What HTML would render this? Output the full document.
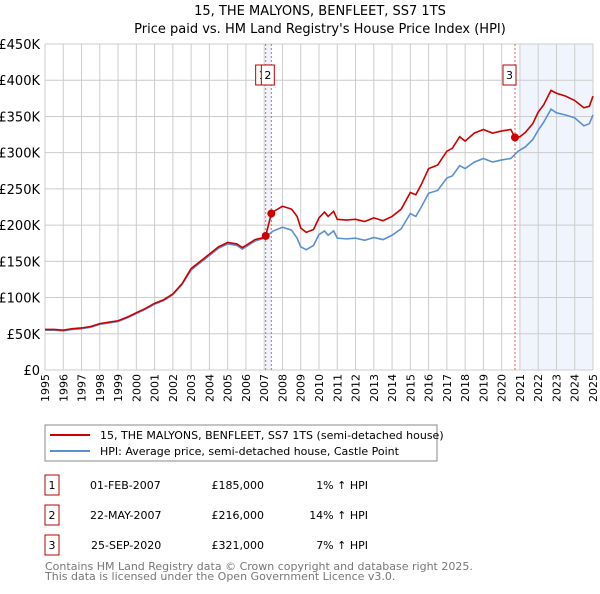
<!DOCTYPE html>
<html><head><meta charset="utf-8">
<style>
body{margin:0;background:#fff;font-family:"DejaVu Sans","Liberation Sans",sans-serif;}
svg text{font-family:"DejaVu Sans","Liberation Sans",sans-serif;}
</style></head>
<body>
<svg id="c" width="600" height="590" xmlns="http://www.w3.org/2000/svg">
<text x="320" y="15" font-size="13" text-anchor="middle">15, THE MALYONS, BENFLEET, SS7 1TS</text>
<text x="320" y="33" font-size="13" text-anchor="middle">Price paid vs. HM Land Registry's House Price Index (HPI)</text>
<g id="grid"></g><g id="series"></g>
<rect x="45" y="425" width="392" height="36" fill="#fff" stroke="#888"/>
<line x1="50" y1="435" x2="90" y2="435" stroke="#cc0000" stroke-width="2"/>
<text x="100" y="439" font-size="11">15, THE MALYONS, BENFLEET, SS7 1TS (semi-detached house)</text>
<line x1="50" y1="451" x2="90" y2="451" stroke="#5b8fd4" stroke-width="2"/>
<text x="100" y="455" font-size="11">HPI: Average price, semi-detached house, Castle Point</text>
<g font-size="11">
<rect x="45" y="475" width="14" height="20" fill="#fff" stroke="#b00"/><text x="52" y="489" text-anchor="middle">1</text>
<text x="90" y="489">01-FEB-2007</text><text x="264" y="489" text-anchor="end">£185,000</text><text x="368" y="489" text-anchor="end">1% ↑ HPI</text>
<rect x="45" y="505" width="14" height="20" fill="#fff" stroke="#b00"/><text x="52" y="519" text-anchor="middle">2</text>
<text x="90" y="519">22-MAY-2007</text><text x="264" y="519" text-anchor="end">£216,000</text><text x="368" y="519" text-anchor="end">14% ↑ HPI</text>
<rect x="45" y="535" width="14" height="20" fill="#fff" stroke="#b00"/><text x="52" y="549" text-anchor="middle">3</text>
<text x="91" y="549">25-SEP-2020</text><text x="264" y="549" text-anchor="end">£321,000</text><text x="368" y="549" text-anchor="end">7% ↑ HPI</text>
</g>
<text x="45" y="570" font-size="11" fill="#777">Contains HM Land Registry data © Crown copyright and database right 2025.</text>
<text x="45" y="580" font-size="11" fill="#777">This data is licensed under the Open Government Licence v3.0.</text>
</svg>
<script>
const hpiDates=[1995,1995.5,1996,1996.5,1997,1997.5,1998,1998.5,1999,1999.5,2000,2000.5,2001,2001.5,2002,2002.5,2003,2003.5,2004,2004.5,2005,2005.5,2005.8,2006,2006.5,2007,2007.5,2008,2008.5,2008.8,2009,2009.3,2009.7,2010,2010.3,2010.5,2010.8,2011,2011.5,2012,2012.5,2013,2013.5,2014,2014.5,2015,2015.3,2015.6,2016,2016.5,2017,2017.3,2017.7,2018,2018.5,2019,2019.5,2020,2020.5,2020.9,2021.3,2021.7,2022,2022.3,2022.7,2023,2023.5,2024,2024.5,2024.8,2025];
const hpiValues=[55,55,54,56,57,59,63,65,67,72,78,84,91,96,104,118,138,148,158,168,174,172,167,170,178,182,192,197,193,182,170,166,172,187,192,186,192,182,181,182,179,183,180,186,195,216,212,225,244,248,265,268,282,278,287,292,287,290,292,302,308,318,331,342,360,355,352,348,337,340,352];
const priceDates=[1995,1995.5,1996,1996.5,1997,1997.5,1998,1998.5,1999,1999.5,2000,2000.5,2001,2001.5,2002,2002.5,2003,2003.5,2004,2004.5,2005,2005.5,2005.8,2006,2006.5,2007,2007.08,2007.39,2007.6,2008,2008.5,2008.8,2009,2009.3,2009.7,2010,2010.3,2010.5,2010.8,2011,2011.5,2012,2012.5,2013,2013.5,2014,2014.5,2015,2015.3,2015.6,2016,2016.5,2017,2017.3,2017.7,2018,2018.5,2019,2019.5,2020,2020.5,2020.73,2021,2021.3,2021.7,2022,2022.3,2022.7,2023,2023.5,2024,2024.5,2024.8,2025];
const priceValues=[56,56,55,57,58,60,64,66,68,73,79,85,92,97,105,119,140,150,160,170,176,174,169,172,180,183,185,216,220,226,222,212,196,190,194,210,218,212,219,208,207,208,205,210,206,212,222,245,242,256,278,283,302,306,322,316,327,332,327,330,332,321,322,328,340,356,366,386,382,378,372,362,364,378];
const saleDates=[2007.08,2007.39,2020.73];
const saleValues=[185,216,321];
const saleLabels=["1","2","3"];
const yTicks=[0,50,100,150,200,250,300,350,400,450];
const yTickLabels=["£0","£50K","£100K","£150K","£200K","£250K","£300K","£350K","£400K","£450K"];
const xTicks=[1995,1996,1997,1998,1999,2000,2001,2002,2003,2004,2005,2006,2007,2008,2009,2010,2011,2012,2013,2014,2015,2016,2017,2018,2019,2020,2021,2022,2023,2024,2025];

const NS="http://www.w3.org/2000/svg";
const X=d=>45+(d-1995)*(548/30);
const Y=v=>370-v*(326/450);
function mk(tag,attrs,parent){const e=document.createElementNS(NS,tag);for(const k in attrs)e.setAttribute(k,attrs[k]);parent.appendChild(e);return e;}
const grid=document.getElementById('grid'),ser=document.getElementById('series');

let sh=mk('rect',{x:X(saleDates[0]),y:44,width:X(saleDates[1])-X(saleDates[0]),height:326,fill:'#eef3fc'},grid);


let sh2=mk('rect',{x:X(2021),y:44,width:X(2025)-X(2021),height:326,fill:'#f0f4fc'},grid);



yTicks.forEach((t,i)=>{
  let l=mk('line',{x1:45,x2:593,y1:Y(t),y2:Y(t),stroke:'#ccc'},grid);
  
  
  let tx=mk('text',{x:40,y:Y(t)+5,'font-size':13,'text-anchor':'end'},grid);
  tx.textContent=yTickLabels[i];
  
  
});
xTicks.forEach(t=>{
  let l=mk('line',{x1:X(t),x2:X(t),y1:44,y2:370,stroke:'#ccc'},grid);
  
  
  let tx=mk('text',{x:0,y:0,'font-size':11,'text-anchor':'end',transform:`translate(${X(t)+4},374) rotate(-90)`},grid);
  tx.textContent=t;
  
  
});
saleDates.forEach((d,i)=>{
  let l=mk('line',{x1:X(d),x2:X(d),y1:44,y2:370,stroke:'#e06060','stroke-dasharray':'2,2'},grid);
  
  
});
let hp=mk('polyline',{points:hpiDates.map((d,i)=>X(d)+','+Y(hpiValues[i])).join(' '),fill:'none',stroke:'#5b8fd4','stroke-width':1.6},ser);


let pp=mk('polyline',{points:priceDates.map((d,i)=>X(d)+','+Y(priceValues[i])).join(' '),fill:'none',stroke:'#cc0000','stroke-width':1.6},ser);


saleDates.forEach((d,i)=>{
  let c=mk('circle',{cx:X(d),cy:Y(saleValues[i]),r:4,fill:'#cc0000'},ser);
  
  
  const bx=saleLabels[i]==='1'?X(d)-10:X(d)-12+ (saleLabels[i]==='2'?2:0);
  let r=mk('rect',{x:bx,y:65,width:13,height:20,fill:'#fff',stroke:'#b00'},ser);
  
  
  let t=mk('text',{x:bx+6.5,y:79,'font-size':11,'text-anchor':'middle'},ser);
  t.textContent=saleLabels[i];
  
  
});
</script>
</body></html>
